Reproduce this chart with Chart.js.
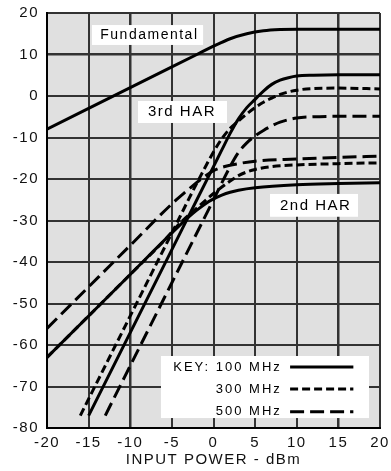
<!DOCTYPE html>
<html>
<head>
<meta charset="utf-8">
<script src="https://cdn.jsdelivr.net/npm/chart.js@4"></script>
<style>
  html, body { margin: 0; padding: 0; background: #fff; }
  #wrap { width: 391px; height: 471px; position: relative; }
  #chart { position: absolute; left: 0; top: 0; z-index: 1; }
  #under { position: absolute; left: 0; top: 0; width: 391px; height: 471px; z-index: 0; }
  #under div { position: absolute; }
</style>
</head>
<body>
<div id="wrap">
  <div id="under"></div>
  <canvas id="chart" width="391" height="471"></canvas>
</div>
<script>
// tick labels
const xTicks = [-20, -15, -10, -5, 0, 5, 10, 15, 20];
const yTicks = [20, 10, 0, -10, -20, -30, -40, -50, -60, -70, -80];

// fundamental (100 MHz)
const fundX = [-20, -15, -10, -5, -2, 0, 2, 4, 6, 8, 10, 15, 20];
const fundY = [-8, -3, 2, 7, 10, 12, 13.8, 15, 15.7, 16, 16.1, 16.1, 16.1];

// 3rd harmonic
const har3x100 = [-15, -10, -5, -2, 0, 1, 2, 3, 4, 5, 6, 7, 8, 9, 10, 12, 15, 20];
const har3y100 = [-77, -57, -37, -25, -17, -13, -9, -5.5, -2.8, -0.8, 1.2, 2.8, 3.8, 4.4, 4.8, 5, 5.1, 5.1];
const har3x300 = [-16, -10, -5, -2, 0, 1, 2, 3, 4, 5, 6, 7, 8, 10, 12, 15, 20];
const har3y300 = [-77, -53, -33, -21, -13.5, -10.3, -7.8, -6, -4.3, -2.8, -1.5, -0.5, 0.4, 1.4, 1.8, 1.9, 1.7];
const har3x500 = [-13, -10, -5, 0, 2, 3, 4, 5, 6, 7, 8, 10, 12, 15, 20];
const har3y500 = [-77, -65, -45, -25, -17, -13.6, -11.3, -9.6, -8.3, -7.2, -6.3, -5.3, -5, -4.9, -4.9];

// 2nd harmonic
const har2x100 = [-20, -15, -10, -5, -3, -2, -1, 0, 1, 2, 3, 5, 10, 15, 20];
const har2y100 = [-63, -53, -43, -33, -29.2, -27.5, -26, -24.8, -23.9, -23.2, -22.7, -22.1, -21.4, -21.1, -20.9];
const har2x300 = [-20, -15, -10, -6, -4, -2, 0, 2, 3, 4, 5, 7, 10, 15, 20];
const har2y300 = [-63, -53, -43, -35, -30.6, -27, -23.5, -20.5, -19.2, -18.3, -17.7, -17, -16.6, -16.3, -16.1];
const har2x500 = [-20, -15, -10, -5, -3, -2, -1, 0, 1, 3, 5, 10, 15, 20];
const har2y500 = [-56, -46, -36, -26, -22.5, -20.8, -19.3, -18, -17.2, -16.3, -15.7, -15.2, -14.8, -14.5];

const keyLabels = ['KEY: 100 MHz', '300 MHz', '500 MHz'];

const SHORT = [8, 4];
const LONG = [14, 6];
const FONT = 'Liberation Sans, Arial, sans-serif';

function pts(xs, ys) {
    return xs.map((x, i) => ({ x: x, y: ys[i] }));
}

function line(xs, ys, dash) {
    return {
        data: pts(xs, ys),
        borderColor: '#000',
        borderWidth: 3,
        borderDash: dash,
        pointRadius: 0,
        cubicInterpolationMode: 'monotone',
        fill: false
    };
}

// grey plot area and grid sit under the (transparent) chart canvas,
// placed from the chart's own scales
function rect(parent, l, t, w, h, color) {
    const d = document.createElement('div');
    d.style.left = l + 'px';
    d.style.top = t + 'px';
    d.style.width = w + 'px';
    d.style.height = h + 'px';
    d.style.background = color;
    parent.appendChild(d);
}

function drawUnder(c) {
    const u = document.getElementById('under');
    u.innerHTML = '';
    const a = c.chartArea;
    const xs = c.scales.x, ys = c.scales.y;
    rect(u, a.left, a.top, a.right - a.left, a.bottom - a.top, '#e0e0e0');
    xTicks.forEach(v => rect(u, Math.round(xs.getPixelForValue(v)) - 1, a.top, 1.5, a.bottom - a.top, '#333'));
    yTicks.forEach(v => rect(u, a.left, Math.round(ys.getPixelForValue(v)) - 1, a.right - a.left, 1.5, '#333'));
    rect(u, a.left - 1, a.top - 1, 2, a.bottom - a.top + 2, '#000');
    rect(u, a.left - 1, a.bottom - 1, a.right - a.left + 2, 2, '#000');
}

// labels and key box
const decor = {
    id: 'decor',
    beforeDraw(c) {
        c.ctx.letterSpacing = '1.5px';
    },
    afterDatasetsDraw(c) {
        const ctx = c.ctx;
        const X = v => c.scales.x.getPixelForValue(v);
        const Y = v => c.scales.y.getPixelForValue(v);

        function box(x0, x1, y0, y1) {
            ctx.fillStyle = '#fff';
            ctx.fillRect(X(x0), Y(y0), X(x1) - X(x0), Y(y1) - Y(y0));
        }
        function text(t, x, y, size, align) {
            ctx.fillStyle = '#000';
            ctx.font = size + 'px ' + FONT;
            ctx.textAlign = align || 'left';
            ctx.textBaseline = 'middle';
            ctx.fillText(t, X(x), Y(y));
        }

        ctx.save();
        ctx.letterSpacing = '1.5px';
        box(-14.6, -1.25, 17.1, 12.3);
        text('Fundamental', -13.6, 14.7, 14);
        box(-9.07, 1.62, -1.2, -6.5);
        text('3rd HAR', -7.87, -3.86, 15);
        box(6.79, 17.36, -23.6, -29.1);
        text('2nd HAR', 7.99, -26.4, 15);

        // key
        box(-6.31, 18.68, -62.65, -77.6);
        ctx.letterSpacing = '2px';
        const rows = [-65.3, -70.6, -76.1];
        const dashes = [[], SHORT, LONG];
        rows.forEach((ry, i) => {
            text(keyLabels[i], 8.2, ry, 13, 'right');
            ctx.beginPath();
            ctx.setLineDash(dashes[i]);
            ctx.lineWidth = 3;
            ctx.strokeStyle = '#000';
            ctx.moveTo(X(9.2), Y(ry));
            ctx.lineTo(X(16.8), Y(ry));
            ctx.stroke();
        });
        ctx.restore();
        ctx.letterSpacing = '1.5px';
    },
    afterDraw(c) {
        drawUnder(c);
    }
};

function noPad(s) {
    s.paddingTop = 0;
    s.paddingBottom = 0;
    s.paddingLeft = 0;
    s.paddingRight = 0;
}

new Chart(document.getElementById('chart'), {
    type: 'line',
    data: {
        datasets: [
            line(fundX, fundY, []),
            line(har3x100, har3y100, []),
            line(har3x300, har3y300, SHORT),
            line(har3x500, har3y500, LONG),
            line(har2x100, har2y100, []),
            line(har2x300, har2y300, SHORT),
            line(har2x500, har2y500, LONG)
        ]
    },
    options: {
        responsive: false,
        animation: false,
        layout: { padding: { left: 0, right: 11, top: 13, bottom: 0 } },
        plugins: {
            legend: { display: false },
            tooltip: { enabled: false }
        },
        scales: {
            x: {
                type: 'linear',
                min: -20,
                max: 20,
                afterBuildTicks: s => { s.ticks = xTicks.map(v => ({ value: v })); },
                afterFit: s => { s.height = 43; noPad(s); },
                grid: { color: '#333', lineWidth: 1.5, drawTicks: false },
                border: { display: true, color: '#000', width: 2 },
                ticks: {
                    padding: 6,
                    color: '#111',
                    font: { family: FONT, size: 15 },
                    maxRotation: 0
                },
                title: {
                    display: true,
                    text: 'INPUT POWER - dBm',
                    color: '#111',
                    font: { family: FONT, size: 15 },
                    padding: { top: 0, bottom: 2 }
                }
            },
            y: {
                type: 'linear',
                min: -80,
                max: 20,
                afterBuildTicks: s => { s.ticks = yTicks.map(v => ({ value: v })); },
                afterFit: s => { s.width = 47; noPad(s); },
                grid: { color: '#333', lineWidth: 1.5, drawTicks: false },
                border: { display: true, color: '#000', width: 2 },
                ticks: {
                    padding: 8,
                    color: '#111',
                    font: { family: FONT, size: 15 }
                }
            }
        }
    },
    plugins: [decor]
});
</script>
</body>
</html>
